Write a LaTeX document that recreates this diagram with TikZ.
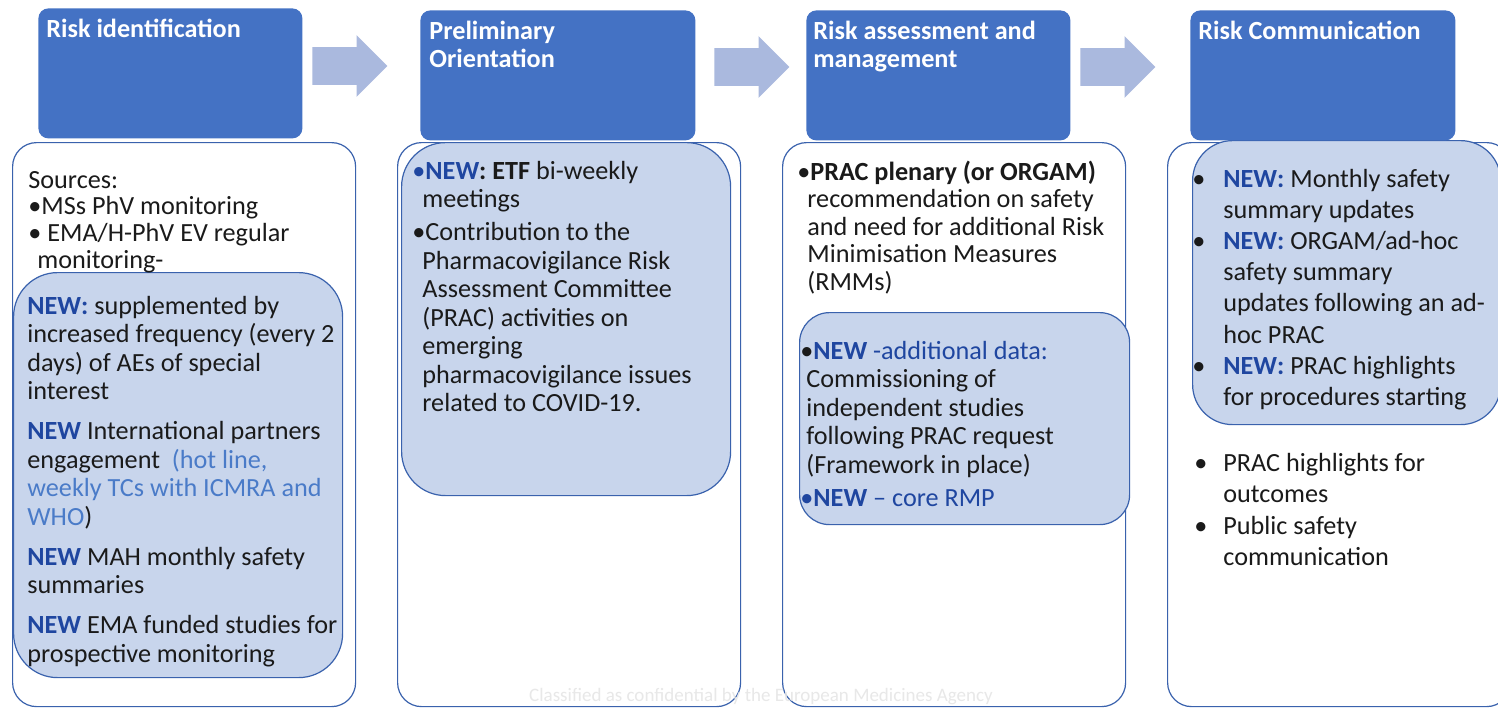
\documentclass[tikz,border=0pt]{standalone}
\usepackage{fontspec}
\setmainfont{Carlito}
\usetikzlibrary{shapes.arrows,positioning}

\definecolor{headblue}{HTML}{4472C4}
\definecolor{edgeblue}{HTML}{3A62AD}
\definecolor{softblue}{HTML}{C8D5EC}
\definecolor{arrowblue}{HTML}{AAB9DE}
\definecolor{newblue}{HTML}{1F46A0}
\definecolor{noteblue}{HTML}{4A7BC8}
\definecolor{inkgrey}{HTML}{1A1A1A}

\newcommand{\NEW}[1]{\textbf{\color{newblue}#1}}

\begin{document}
\begin{tikzpicture}[x=0.5pt, y=-0.5pt,
  stagebox/.style={rectangle, rounded corners=5pt, fill=headblue, anchor=north west, inner sep=0pt},
  stagetxt/.style={text=white, font=\fontsize{13.1}{14}\selectfont\bfseries, align=left, inner sep=0pt, anchor=north west},
  listbox/.style={rectangle, rounded corners=12pt, draw=edgeblue, line width=0.6pt, fill=white, anchor=north west, inner sep=0pt},
  newbox/.style={rectangle, rounded corners=22pt, draw=edgeblue, line width=0.6pt, fill=softblue, anchor=north west, inner sep=0pt},
  flowarrow/.style={single arrow, fill=arrowblue, single arrow head extend=6pt, minimum height=37.5pt, inner xsep=0pt, inner ysep=9.25pt, anchor=tail},
  listtxt/.style={text=inkgrey, font=\fontsize{13.1}{14.25}\selectfont, align=left, inner sep=0pt, anchor=north west}]
\useasboundingbox (0,0) rectangle (1498,708);
\clip (0,0) rectangle (1498,708);
\fill[white] (0,0) rectangle (1498,708);

% Columns
\node[listbox, minimum width=171.5pt, minimum height=282pt] (b1) at (12,142) {};
\node[listbox, minimum width=171.5pt, minimum height=282pt] (b2) at (397,142) {};
\node[listbox, minimum width=171.5pt, minimum height=282pt] (b3) at (782,142) {};
\node[listbox, minimum width=171.5pt, minimum height=282pt] (b4) at (1167,142) {};

% New activities
\node[newbox, minimum width=164.5pt, minimum height=202.5pt] (n1) at (13,272) {};
\node[newbox, minimum width=164.5pt, minimum height=176.5pt] (n2) at (401,142) {};
\node[newbox, rounded corners=15pt, minimum width=165pt, minimum height=106pt] (n3) at (799,312) {};
\node[newbox, rounded corners=20pt, minimum width=154pt, minimum height=142pt] (n4) at (1192,140) {};

% Stages
\node[stagebox, minimum width=132pt, minimum height=65pt] (h1) at (38,8) {};
\node[stagebox, minimum width=137.5pt, minimum height=65pt] (h2) at (420,10) {};
\node[stagebox, minimum width=132pt, minimum height=65pt] (h3) at (806,10) {};
\node[stagebox, minimum width=132.5pt, minimum height=65pt] (h4) at (1190,10) {};

\node[stagetxt, below right=5.5pt and 4pt of h1.north west] (h1txt) {Risk identification};
\node[stagetxt, below right=5.5pt and 4.5pt of h2.north west] (h2txt) {Preliminary\\ Orientation};
\node[stagetxt, below right=5.5pt and 3.5pt of h3.north west] (h3txt) {Risk assessment and\\ management};
\node[stagetxt, below right=5.5pt and 4pt of h4.north west] (h4txt) {Risk Communication};

% Flow
\node[flowarrow] (a1) at (312,66) {};
\node[flowarrow] (a2) at (714,67) {};
\node[flowarrow] (a3) at (1080,67) {};

% Risk identification
\node[listtxt] (s1) at (28,171.5) {Sources:\\[-1.5pt] •MSs PhV monitoring\\[-0.75pt] • EMA/H-PhV EV regular\\[-0.75pt] \hspace*{4.5pt}monitoring-};
\node[listtxt] (s1new) at (27,295.5) {\NEW{NEW:} supplemented by\\ increased frequency (every 2\\ days) of AEs of special\\ interest\\[5.75pt]
  \NEW{NEW} International partners\\ engagement \ {\color{noteblue}(hot line,}\\ {\color{noteblue}weekly TCs with ICMRA and}\\ {\color{noteblue}WHO})\\[5.75pt]
  \NEW{NEW} MAH monthly safety\\ summaries\\[5.75pt]
  \NEW{NEW} EMA funded studies for\\ prospective monitoring};

% Preliminary orientation
\node[listtxt] (s2new) at (412,160.5) {{\color{newblue}•}\NEW{NEW}\textbf{: ETF} bi-weekly\\ \hspace*{5pt}meetings\\[2.25pt]
  •Contribution to the\\ \hspace*{5pt}Pharmacovigilance Risk\\ \hspace*{5pt}Assessment Committee\\ \hspace*{5pt}(PRAC) activities on\\ \hspace*{5pt}emerging\\ \hspace*{5pt}pharmacovigilance issues\\ \hspace*{5pt}related to COVID-19.};

% Risk assessment and management
\node[listtxt, font=\fontsize{13.1}{13.75}\selectfont] (s3) at (797,160.5) {•\textbf{PRAC plenary (or ORGAM)}\\ \hspace*{5pt}recommendation on safety\\ \hspace*{5pt}and need for additional Risk\\ \hspace*{5pt}Minimisation Measures\\ \hspace*{5pt}(RMMs)};
\node[listtxt] (s3new) at (800,340.5) {•\NEW{NEW} {\color{newblue}-additional data:}\\ \hspace*{3pt}Commissioning of\\ \hspace*{3pt}independent studies\\ \hspace*{3pt}following PRAC request\\ \hspace*{3pt}(Framework in place)\\[2.5pt]
  {\color{newblue}•}\NEW{NEW} {\color{newblue}– core RMP}};

% Risk communication
\node[listtxt, font=\fontsize{13.1}{15.6}\selectfont] (s4new) at (1192,168.5) {\makebox[15.5pt][l]{•}\NEW{NEW:} Monthly safety\\ \hspace*{15.5pt}summary updates\\
  \makebox[15.5pt][l]{•}\NEW{NEW:} ORGAM/ad-hoc\\ \hspace*{15.5pt}safety summary\\ \hspace*{15.5pt}updates following an ad-\\ \hspace*{15.5pt}hoc PRAC\\
  \makebox[15.5pt][l]{•}\NEW{NEW:} PRAC highlights\\ \hspace*{15.5pt}for procedures starting};
\node[listtxt, font=\fontsize{13.1}{15.8}\selectfont] (s4) at (1194,452.5) {\makebox[14.5pt][l]{•}PRAC highlights for\\ \hspace*{14.5pt}outcomes\\ \makebox[14.5pt][l]{•}Public safety\\ \hspace*{14.5pt}communication};

% Footer
\node[text=black!9, font=\fontsize{9.5}{10}\selectfont] (mark) at (761,697) {Classified as confidential by the European Medicines Agency};
\end{tikzpicture}
\end{document}
